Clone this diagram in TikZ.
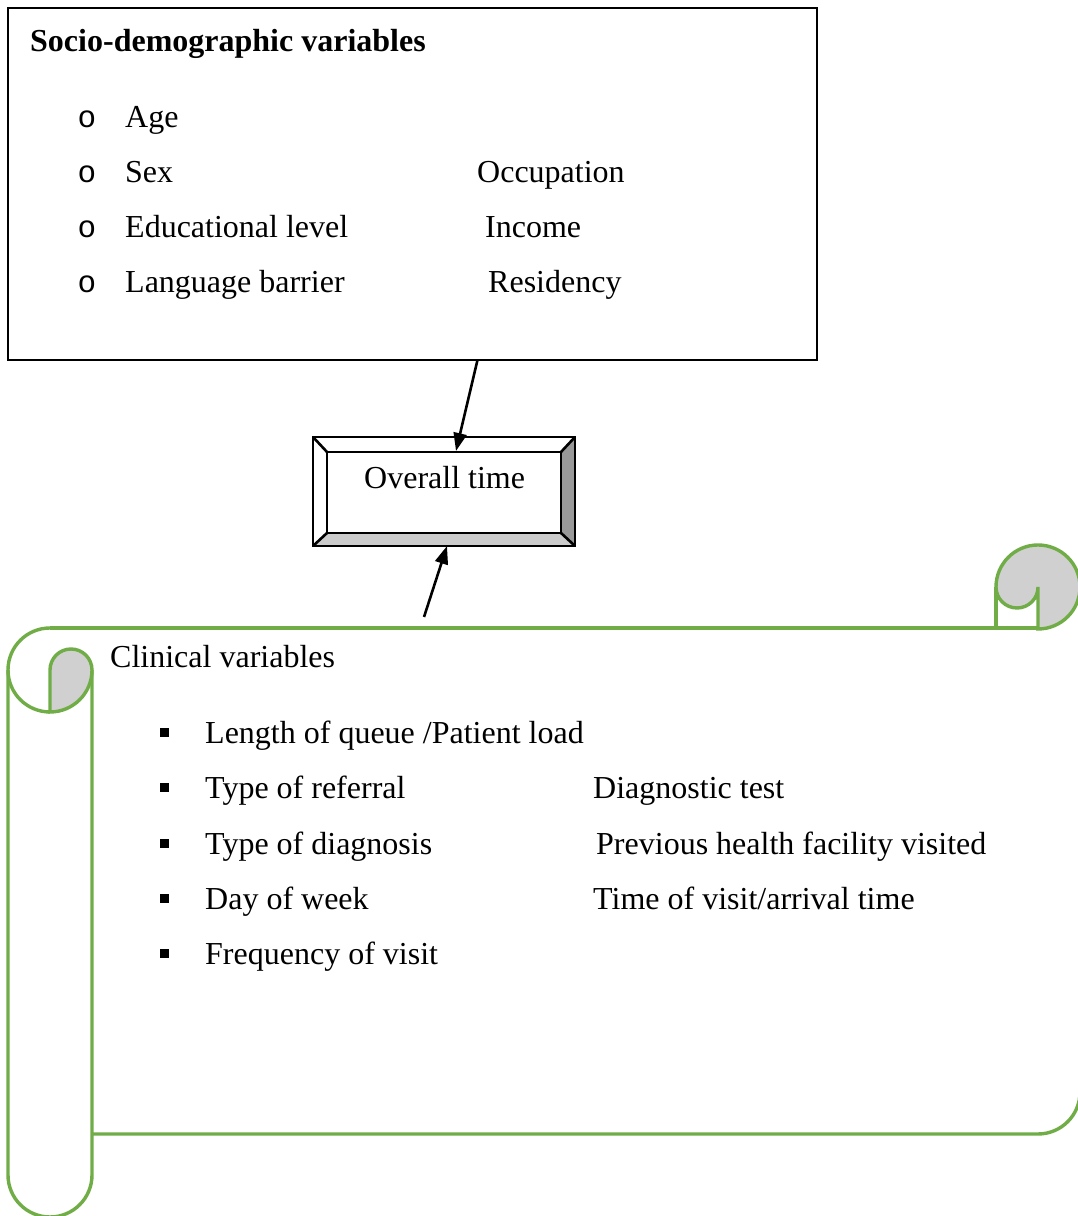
\documentclass[tikz,border=0pt]{standalone}
\usepackage{fontspec}
\setmainfont{Liberation Serif}
\newfontfamily\monofnt{Liberation Mono}
\usetikzlibrary{arrows.meta}
\definecolor{scrollgreen}{HTML}{70AD47}
\definecolor{curlgray}{HTML}{D0D0D0}
\definecolor{bevdark}{HTML}{999999}
\definecolor{bevlight}{HTML}{CCCCCC}
\tikzset{
  txt/.style={inner sep=0pt,anchor=base west,font=\fontsize{32}{38}\selectfont},
  obul/.style={inner sep=0pt,anchor=base,font=\monofnt\fontsize{31}{36}\selectfont},
  sqbul/.style={fill=black,draw=none},
  scroll/.style={draw=scrollgreen,line width=3.4pt},
  curl/.style={draw=scrollgreen,line width=3.4pt,fill=curlgray},
  blackline/.style={draw=black,line width=2.6pt},
  arr/.style={draw=black,line width=2.6pt,-{Triangle[length=18pt,width=13pt]}}
}
\begin{document}
\begin{tikzpicture}[x=1pt,y=1pt]
\useasboundingbox (0,0) rectangle (1078,1216);
\clip (0,0) rectangle (1078,1216);
\fill[white] (0,0) rectangle (1078,1216);

% top box
\node[blackline,minimum width=809pt,minimum height=352pt,inner sep=0pt] (topbox) at (412.5,1032) {};
\coordinate (topout) at (477.5,856);
\node[txt,font=\bfseries\fontsize{32}{38}\selectfont] (title) at (30,1164) {Socio-demographic variables};
\node[obul] (o1) at (87,1088) {o};
\node[obul] (o2) at (87,1033) {o};
\node[obul] (o3) at (87,978) {o};
\node[obul] (o4) at (87,923) {o};
\node[txt] (age) at (125,1088) {Age};
\node[txt] (sex) at (125,1033) {Sex};
\node[txt] (edu) at (125,978) {Educational level};
\node[txt] (lang) at (125,923) {Language barrier};
\node[txt] (occ) at (477,1033) {Occupation};
\node[txt] (inc) at (485,978) {Income};
\node[txt] (res) at (488,923) {Residency};

% bevel box
\coordinate (bo1) at (313,779); \coordinate (bo2) at (575,779);
\coordinate (bo3) at (575,670); \coordinate (bo4) at (313,670);
\coordinate (bi1) at (327,764); \coordinate (bi2) at (561,764);
\coordinate (bi3) at (561,683); \coordinate (bi4) at (327,683);
\fill[white] (bo1) rectangle (bo3);
\fill[bevdark] (bi2) -- (bo2) -- (bo3) -- (bi3) -- cycle;
\fill[bevlight] (bi4) -- (bi3) -- (bo3) -- (bo4) -- cycle;
\draw[blackline] (bo1) rectangle (bo3);
\draw[blackline] (bi1) rectangle (bi3);
\draw[blackline] (bo1) -- (bi1) (bo2) -- (bi2) (bo3) -- (bi3) (bo4) -- (bi4);
\node[txt] (overall) at (364,727) {Overall time};
\coordinate (intop) at (456,765);
\coordinate (outbot) at (447,670);
\coordinate (scrolltop) at (424,599);

% arrows
\draw[arr] (topout) -- (intop);
\draw[arr] (scrolltop) -- (outbot);

% scroll body
\draw[scroll] (50,588) -- (1038,588);
\draw[scroll] (92,82) -- (1038,82) arc[start angle=-90,end angle=0,radius=42] -- (1080,629);
% left roll
\draw[scroll] (50,588) arc[start angle=90,end angle=180,radius=42] -- (8,41)
  arc[start angle=180,end angle=360,radius=42] -- (92,546);
\draw[scroll] (8,546) arc[start angle=180,end angle=270,radius=42];
\draw[curl] (50,546) arc[start angle=180,end angle=0,radius=21]
  arc[start angle=0,end angle=-90,radius=42] -- cycle;
% right roll
\draw[scroll] (996,588) -- (996,629);
\draw[curl] (996,629) arc[start angle=180,end angle=-90,radius=42] -- (1038,629)
  arc[start angle=0,end angle=-180,radius=21] -- cycle;

% scroll text
\node[txt] (clin) at (110,548) {Clinical variables};
\foreach \n/\yy in {1/472,2/417,3/361,4/306,5/251}{
  \fill[sqbul] (160,\yy+7) rectangle (169,\yy+16);
}
\node[txt] (c1) at (205,472) {Length of queue /Patient load};
\node[txt] (c2) at (205,417) {Type of referral};
\node[txt] (c3) at (205,361) {Type of diagnosis};
\node[txt] (c4) at (205,306) {Day of week};
\node[txt] (c5) at (205,251) {Frequency of visit};
\node[txt] (d2) at (593,417) {Diagnostic test};
\node[txt] (d3) at (596,361) {Previous health facility visited};
\node[txt] (d4) at (593,306) {Time of visit/arrival time};
\end{tikzpicture}
\end{document}
